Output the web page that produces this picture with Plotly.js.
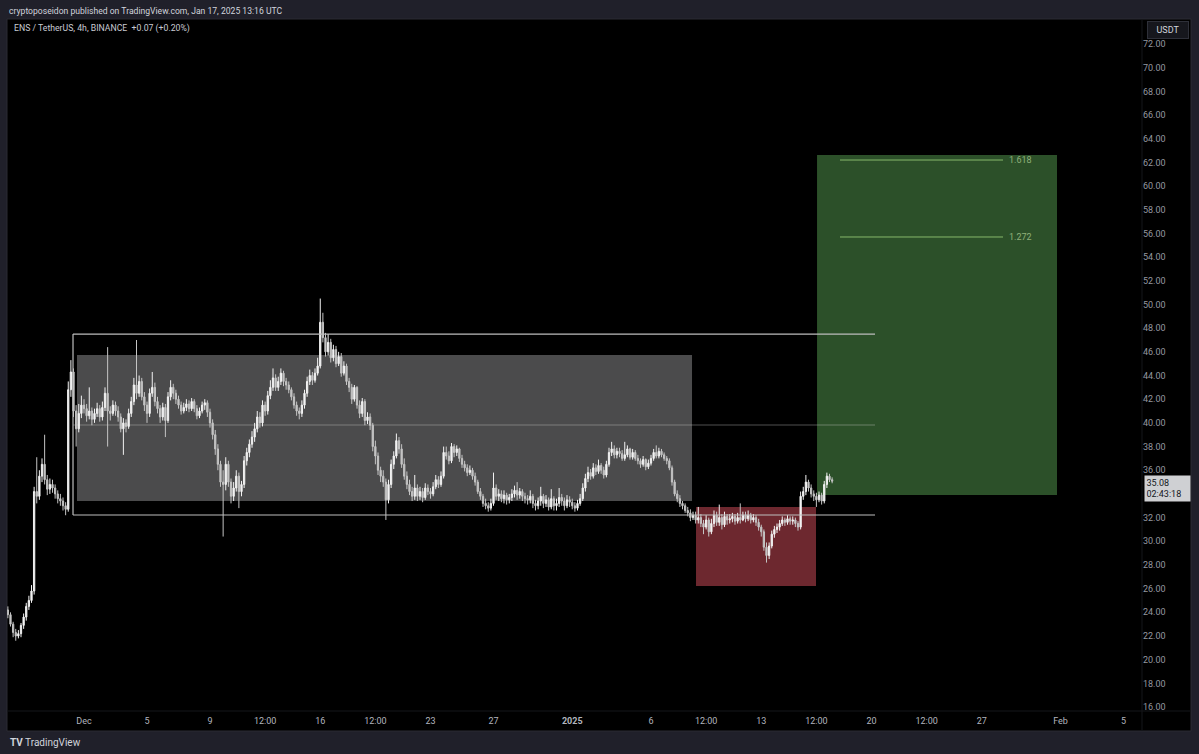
<!DOCTYPE html>
<html><head><meta charset="utf-8">
<script src="https://cdn.plot.ly/plotly-3.0.1.min.js"></script>
<style>html,body{margin:0;padding:0;background:#20202a;}#chart{width:1199px;height:754px;}</style>
</head><body><div id="chart"></div>
<script>
// ENS / TetherUS 4h candles, first candle 2024-11-26 04:00 UTC, one per 4 hours
const firstCandle = Date.UTC(2024, 10, 26, 4, 0);
const open = [
 24.2,23.8,23.0,22.3,22.0,
 22.2,22.9,23.6,24.5,25.0,25.8,
 34.2,33.8,35.5,36.5,35.2,34.4,
 34.8,34.5,34.0,33.6,33.4,33.0,
 32.7,42.8,44.3,41.0,39.5,40.8,
 41.5,41.2,40.6,41.0,40.3,40.8,
 41.2,40.5,41.3,42.5,41.0,40.8,
 41.5,41.0,40.5,39.5,40.0,39.7,
 40.8,41.8,43.2,42.5,43.5,42.2,
 41.5,40.8,42.5,43.0,41.8,41.2,
 40.5,41.3,40.2,42.2,43.0,42.5,
 42.0,41.5,41.0,41.3,41.6,41.2,
 41.8,41.2,40.6,41.0,41.5,41.7,
 40.9,40.0,39.0,37.8,36.5,35.0,
 34.8,36.5,35.0,33.8,34.5,35.5,
 34.2,34.8,36.8,37.5,38.2,38.8,
 39.5,40.5,40.0,41.5,41.0,42.3,
 43.0,43.8,43.0,43.5,44.2,43.5,
 43.2,42.8,42.2,41.5,41.0,40.8,
 41.5,42.5,43.5,44.0,43.6,44.2,
 44.8,48.5,47.2,46.0,46.8,45.5,
 46.2,45.0,45.6,44.2,44.8,43.5,
 43.0,42.0,43.0,41.5,40.8,41.8,
 40.2,40.5,39.8,38.0,37.2,36.0,
 35.5,35.0,33.5,34.8,36.5,37.2,
 38.5,37.8,36.5,35.5,34.8,34.2,
 33.8,34.5,33.8,34.2,33.7,34.5,
 34.2,34.0,34.6,35.2,34.8,35.5,
 37.5,37.2,36.8,38.0,37.5,37.8,
 37.0,36.5,36.2,35.8,36.0,35.5,
 35.0,34.2,33.8,33.2,33.0,32.8,
 33.2,34.5,33.8,34.0,33.6,33.9,
 33.5,33.7,34.0,34.3,33.9,34.2,
 33.8,33.6,33.5,33.8,33.2,33.0,
 33.4,33.8,33.2,33.5,32.9,33.6,
 33.0,33.2,33.7,33.4,33.0,33.5,
 33.3,33.0,32.8,33.2,33.6,34.5,
 35.3,35.8,35.5,36.2,35.9,36.4,
 36.0,35.6,36.5,37.5,37.8,37.3,
 37.6,37.4,37.0,37.3,37.8,37.1,
 37.5,37.0,36.8,36.5,36.9,36.3,
 36.6,37.0,37.5,37.2,37.6,37.3,
 37.0,36.8,36.2,35.0,34.0,33.6,
 33.2,33.0,32.6,32.4,32.0,32.2,
 31.8,32.0,31.5,31.2,31.8,30.8,
 31.5,32.2,31.6,32.0,31.4,32.1,
 31.8,31.9,32.1,31.7,32.0,31.8,
 32.2,31.9,32.2,31.8,32.0,31.6,
 31.2,30.8,29.5,28.8,29.6,30.6,
 31.0,31.2,31.5,31.8,31.6,31.9,
 31.7,31.8,31.5,31.2,33.8,34.2,
 35.0,34.5,34.0,33.8,33.5,33.9,
 33.4,34.8,35.5,35.2
];
const high = [
 24.5,24.0,23.2,22.6,22.5,
 23.1,23.9,24.8,25.4,26.3,34.6,
 37.1,36.0,37.0,39.0,35.6,35.3,
 35.2,34.8,34.3,34.0,33.7,33.3,
 43.5,45.3,44.6,41.5,41.6,42.3,
 42.0,41.6,43.0,41.3,41.2,41.7,
 41.5,41.8,43.0,46.4,41.4,41.9,
 41.8,41.4,40.8,40.4,40.3,41.2,
 42.2,43.8,47.0,44.0,43.8,42.6,
 41.8,42.9,44.3,43.4,42.2,41.5,
 41.7,41.6,42.6,43.6,43.3,42.8,
 42.3,41.8,41.7,42.0,41.9,42.1,
 42.0,41.5,41.3,41.8,42.0,41.9,
 41.2,40.3,39.4,38.2,36.8,36.0,
 37.1,36.8,35.3,35.0,36.0,35.8,
 35.1,37.2,37.9,38.6,39.3,40.0,
 41.0,40.9,41.9,41.8,42.7,43.6,
 44.6,44.1,43.9,44.6,44.4,43.8,
 43.5,43.0,42.5,41.8,41.3,41.9,
 42.8,43.9,44.5,44.3,44.6,45.5,
 50.5,49.3,47.6,47.5,47.1,46.6,
 46.5,46.0,45.9,45.2,45.0,43.8,
 43.3,43.2,43.1,41.9,42.1,42.0,
 40.9,40.8,40.0,38.5,37.5,36.3,
 36.0,35.3,35.2,36.9,37.6,39.1,
 38.8,38.2,37.0,35.9,35.2,34.6,
 35.6,34.8,34.6,34.5,34.9,34.8,
 34.5,35.0,35.6,35.5,35.9,38.0,
 38.0,37.6,38.3,38.2,38.1,37.9,
 37.3,36.8,36.5,36.4,36.2,35.8,
 35.2,34.5,34.0,33.6,33.3,33.6,
 35.8,34.8,34.4,34.3,34.3,34.1,
 34.0,34.4,34.7,35.0,34.5,34.4,
 34.1,33.9,34.3,34.0,33.5,33.7,
 34.6,34.0,33.9,33.7,34.4,33.8,
 33.6,34.5,34.0,33.7,33.9,33.8,
 33.6,33.3,33.5,34.0,34.9,35.7,
 36.3,36.1,36.6,36.5,36.9,36.6,
 36.3,36.8,37.9,38.4,38.1,37.9,
 37.9,37.7,38.4,38.1,37.9,37.8,
 37.7,37.3,37.0,37.2,37.0,36.9,
 37.3,37.8,38.1,37.9,37.8,37.5,
 37.2,37.0,36.4,35.2,34.3,33.9,
 33.4,33.2,32.9,32.7,32.5,32.5,
 32.9,32.3,31.8,32.2,32.0,31.9,
 32.6,32.5,33.1,32.3,32.5,32.3,
 32.3,32.4,32.3,32.4,33.2,32.5,
 32.5,32.6,32.4,32.3,32.2,31.9,
 31.4,31.0,29.9,29.9,30.9,31.3,
 31.5,31.8,32.1,32.0,32.2,32.1,
 32.1,32.0,31.7,34.2,34.6,35.6,
 35.2,34.8,34.3,34.1,34.2,34.1,
 35.1,35.8,35.7,35.4
];
const low = [
 23.5,22.8,21.9,21.6,21.8,
 21.9,22.6,23.3,24.2,24.8,25.5,
 33.2,33.5,35.0,34.8,33.9,34.0,
 34.1,33.6,33.2,33.0,32.6,32.2,
 32.5,42.2,40.5,38.0,39.2,40.4,
 40.8,40.1,40.3,39.8,40.0,40.5,
 40.1,40.2,41.0,38.0,40.2,40.6,
 40.6,40.1,39.2,37.3,39.2,39.5,
 40.5,41.5,42.0,42.2,41.9,41.0,
 40.0,40.5,42.2,41.4,40.8,40.0,
 40.2,38.8,40.0,41.9,42.0,41.6,
 41.2,40.7,40.8,41.0,40.9,41.0,
 40.9,40.3,40.4,40.8,41.1,40.5,
 39.6,38.6,37.3,36.0,34.6,30.4,
 34.3,34.6,33.2,33.4,34.2,32.8,
 33.8,34.5,36.4,37.1,37.9,38.4,
 39.2,39.6,39.7,40.6,40.7,42.0,
 42.7,42.7,42.7,43.2,43.1,42.8,
 42.5,41.9,41.2,40.6,40.3,40.5,
 41.2,42.2,43.2,43.2,43.4,44.0,
 44.6,46.8,45.6,45.7,45.1,45.2,
 44.7,44.8,43.9,44.0,43.2,42.6,
 41.6,41.8,41.2,40.4,40.5,39.8,
 39.9,39.4,37.6,36.5,35.6,35.0,
 34.6,31.8,33.2,34.5,36.1,37.0,
 37.4,36.2,35.2,34.4,33.9,33.4,
 33.5,33.4,33.5,33.3,33.5,33.9,
 33.6,33.8,34.4,34.5,34.6,35.3,
 36.9,36.5,36.6,37.1,37.2,36.7,
 36.2,35.9,35.5,35.6,35.2,34.7,
 34.0,33.5,32.9,32.7,32.5,32.6,
 33.0,33.5,33.4,33.3,33.2,33.1,
 33.2,33.4,33.7,33.5,33.6,33.4,
 33.2,33.1,33.2,32.8,32.6,32.7,
 33.0,32.8,32.9,32.6,32.7,32.6,
 32.6,32.9,33.0,32.6,32.8,32.9,
 32.7,32.5,32.6,33.0,33.4,34.2,
 35.0,35.2,35.3,35.6,35.7,35.7,
 35.3,35.4,36.3,37.2,37.0,37.0,
 37.1,36.8,36.8,37.1,36.9,36.9,
 36.8,36.5,36.2,36.3,36.0,36.1,
 36.4,36.8,37.0,37.0,37.1,36.8,
 36.5,36.0,34.7,33.8,33.3,32.9,
 32.7,32.4,32.1,31.7,31.8,31.5,
 31.5,31.2,30.6,31.0,30.4,30.6,
 31.2,31.3,31.3,31.0,31.2,31.4,
 31.5,31.6,31.4,31.5,31.5,31.7,
 31.6,31.7,31.5,31.6,31.3,30.9,
 30.4,29.2,28.2,28.5,29.4,30.3,
 30.7,30.9,31.3,31.3,31.4,31.4,
 31.4,31.2,30.9,31.0,33.5,33.9,
 34.2,33.7,33.4,32.9,33.3,33.1,
 33.2,34.5,35.0,34.9
];
const close = [
 23.8,23.0,22.3,22.0,22.2,
 22.9,23.6,24.5,25.0,25.8,34.2,
 33.8,35.5,36.5,35.2,34.4,34.8,
 34.5,34.0,33.6,33.4,33.0,32.7,
 42.8,44.3,41.0,39.5,40.8,41.5,
 41.2,40.6,41.0,40.3,40.8,41.2,
 40.5,41.3,42.5,41.0,40.8,41.5,
 41.0,40.5,39.5,40.0,39.7,40.8,
 41.8,43.2,42.5,43.5,42.2,41.5,
 40.8,42.5,43.0,41.8,41.2,40.5,
 41.3,40.2,42.2,43.0,42.5,42.0,
 41.5,41.0,41.3,41.6,41.2,41.8,
 41.2,40.6,41.0,41.5,41.7,40.9,
 40.0,39.0,37.8,36.5,35.0,34.8,
 36.5,35.0,33.8,34.5,35.5,34.2,
 34.8,36.8,37.5,38.2,38.8,39.5,
 40.5,40.0,41.5,41.0,42.3,43.0,
 43.8,43.0,43.5,44.2,43.5,43.2,
 42.8,42.2,41.5,41.0,40.8,41.5,
 42.5,43.5,44.0,43.6,44.2,44.8,
 48.5,47.2,46.0,46.8,45.5,46.2,
 45.0,45.6,44.2,44.8,43.5,43.0,
 42.0,43.0,41.5,40.8,41.8,40.2,
 40.5,39.8,38.0,37.2,36.0,35.5,
 35.0,33.5,34.8,36.5,37.2,38.5,
 37.8,36.5,35.5,34.8,34.2,33.8,
 34.5,33.8,34.2,33.7,34.5,34.2,
 34.0,34.6,35.2,34.8,35.5,37.5,
 37.2,36.8,38.0,37.5,37.8,37.0,
 36.5,36.2,35.8,36.0,35.5,35.0,
 34.2,33.8,33.2,33.0,32.8,33.2,
 34.5,33.8,34.0,33.6,33.9,33.5,
 33.7,34.0,34.3,33.9,34.2,33.8,
 33.6,33.5,33.8,33.2,33.0,33.4,
 33.8,33.2,33.5,32.9,33.6,33.0,
 33.2,33.7,33.4,33.0,33.5,33.3,
 33.0,32.8,33.2,33.6,34.5,35.3,
 35.8,35.5,36.2,35.9,36.4,36.0,
 35.6,36.5,37.5,37.8,37.3,37.6,
 37.4,37.0,37.3,37.8,37.1,37.5,
 37.0,36.8,36.5,36.9,36.3,36.6,
 37.0,37.5,37.2,37.6,37.3,37.0,
 36.8,36.2,35.0,34.0,33.6,33.2,
 33.0,32.6,32.4,32.0,32.2,31.8,
 32.0,31.5,31.2,31.8,30.8,31.5,
 32.2,31.6,32.0,31.4,32.1,31.8,
 31.9,32.1,31.7,32.0,31.8,32.2,
 31.9,32.2,31.8,32.0,31.6,31.2,
 30.8,29.5,28.8,29.6,30.6,31.0,
 31.2,31.5,31.8,31.6,31.9,31.7,
 31.8,31.5,31.2,33.8,34.2,35.0,
 34.5,34.0,33.8,33.5,33.9,33.4,
 34.8,35.5,35.2,35.08
];

// Axis ticks (34.00 is hidden behind the live price label in the reference)
const yTicks = [16,18,20,22,24,26,28,30,32,36,38,40,42,44,46,48,50,52,54,56,58,60,62,64,66,68,70,72];
const xTickVals = ['2024-12-01','2024-12-05','2024-12-09','2024-12-12 12:00','2024-12-16','2024-12-19 12:00','2024-12-23','2024-12-27','2025-01-01','2025-01-06','2025-01-09 12:00','2025-01-13','2025-01-16 12:00','2025-01-20','2025-01-23 12:00','2025-01-27','2025-02-01','2025-02-05'];
const xTickText = ['Dec','5','9','12:00','16','12:00','23','27','<b>2025</b>','6','12:00','13','12:00','20','12:00','27','Feb','5'];

// Drawings (range, zones, position tool)
const rangeTop = 47.5, rangeMid = 39.82, rangeBottom = 32.22;
const rangeStart = '2024-11-30 07:15', rangeEnd = '2025-01-20 05:20';
const grayZone = {x0:'2024-11-30 13:20', x1:'2025-01-08 14:30', y0:33.4, y1:45.73};
const redZone = {x0:'2025-01-08 20:35', x1:'2025-01-16 11:25', y0:26.22, y1:32.9};
const greenZone = {x0:'2025-01-16 13:00', x1:'2025-01-31 18:40', y0:33.91, y1:62.63};
const fibLevels = [1.618, 1.272];
const fibPrices = [62.2, 55.7];
const fibStart = '2025-01-18 00:00', fibEnd = '2025-01-28 08:25', fibLabelX = '2025-01-28 15:00';

const pad = n => String(n).padStart(2,'0');
const times = close.map((_, i) => {
  const d = new Date(firstCandle + i*4*3600*1000);
  return d.getUTCFullYear()+'-'+pad(d.getUTCMonth()+1)+'-'+pad(d.getUTCDate())+' '+pad(d.getUTCHours())+':00';
});

const W = 1199, H = 754;
const px = v => v / W, py = v => 1 - v / H;
const FONT = 'Roboto, Inter, "Noto Sans", sans-serif';

const trace = {
  type:'candlestick', x: times, open, high, low, close,
  increasing:{line:{color:'#f2f2f2', width:1}, fillcolor:'#f2f2f2'},
  decreasing:{line:{color:'#c4c4c4', width:1}, fillcolor:'#c4c4c4'},
  whiskerwidth:0, hoverinfo:'skip', showlegend:false
};

const shapes = [
  // panel
  {type:'rect', xref:'paper', yref:'paper', x0:px(7), x1:px(1191), y0:py(731), y1:py(19), fillcolor:'#000000', line:{color:'#2a2b33', width:1}, layer:'below'},
  {type:'line', xref:'paper', yref:'paper', x0:px(7), x1:px(1191), y0:py(711), y1:py(711), line:{color:'#15161b', width:1}, layer:'below'},
  {type:'line', xref:'paper', yref:'paper', x0:px(1142), x1:px(1142), y0:py(731), y1:py(19), line:{color:'#15161b', width:1}, layer:'below'},
  // zones
  {type:'rect', xref:'x', yref:'y', x0:grayZone.x0, x1:grayZone.x1, y0:grayZone.y0, y1:grayZone.y1, fillcolor:'#4b4b4c', line:{width:0}, layer:'below'},
  {type:'rect', xref:'x', yref:'y', x0:redZone.x0, x1:redZone.x1, y0:redZone.y0, y1:redZone.y1, fillcolor:'#6d282f', line:{width:0}, layer:'below'},
  {type:'rect', xref:'x', yref:'y', x0:greenZone.x0, x1:greenZone.x1, y0:greenZone.y0, y1:greenZone.y1, fillcolor:'#2c5029', line:{width:0}, layer:'below'},
  // range lines
  {type:'line', xref:'x', yref:'y', x0:rangeStart, x1:rangeEnd, y0:rangeTop, y1:rangeTop, line:{color:'#bdbdbd', width:1.2}, layer:'above'},
  {type:'line', xref:'x', yref:'y', x0:rangeStart, x1:rangeEnd, y0:rangeMid, y1:rangeMid, line:{color:'rgba(200,200,200,0.4)', width:1}, layer:'below'},
  {type:'line', xref:'x', yref:'y', x0:rangeStart, x1:rangeEnd, y0:rangeBottom, y1:rangeBottom, line:{color:'#bdbdbd', width:1.2}, layer:'above'},
  {type:'line', xref:'x', yref:'y', x0:rangeStart, x1:rangeStart, y0:rangeBottom, y1:rangeTop, line:{color:'#bdbdbd', width:1.2}, layer:'above'}
];
fibPrices.forEach(p => shapes.push({type:'line', xref:'x', yref:'y', x0:fibStart, x1:fibEnd, y0:p, y1:p, line:{color:'#86b86a', width:1}, layer:'above'}));

const annotations = [
  {xref:'paper', yref:'paper', x:px(7), y:py(11), xanchor:'left', yanchor:'middle', showarrow:false,
   text:'cryptoposeidon published on TradingView.com, Jan 17, 2025 13:16 UTC', font:{family:FONT, size:8.6, color:'#d1d4dc'}},
  {xref:'paper', yref:'paper', x:px(12), y:py(29), xanchor:'left', yanchor:'middle', showarrow:false,
   text:'ENS / TetherUS, 4h, BINANCE&nbsp;&nbsp;+0.07 (+0.20%)', font:{family:FONT, size:8.7, color:'#c8cad2'}},
  {xref:'paper', yref:'paper', x:px(1168), y:py(29.5), xanchor:'center', yanchor:'middle', showarrow:false,
   text:'USDT', font:{family:FONT, size:9, color:'#d1d4dc'}, bgcolor:'#16171d', bordercolor:'#2e3039', borderwidth:1, borderpad:3, width:34},
  {xref:'paper', yref:'paper', x:px(8), y:py(742), xanchor:'left', yanchor:'middle', showarrow:false,
   text:'<b>TV</b> TradingView', font:{family:FONT, size:10, color:'#d1d4dc'}},
  {xref:'paper', yref:'y', x:px(1144), y:close[close.length-1], xanchor:'left', yanchor:'top', yshift:6, showarrow:false, align:'left',
   text:'35.08<br>02:43:18', font:{family:FONT, size:9, color:'#131722'}, bgcolor:'#cfd0d3', borderpad:1.5, width:42}
];
fibLevels.forEach((f, i) => annotations.push({xref:'x', yref:'y', x:fibLabelX, y:fibPrices[i], xanchor:'left', yanchor:'middle', showarrow:false,
  text:String(f), font:{family:FONT, size:9, color:'#8fb07a'}}));

const layout = {
  width:W, height:H, margin:{l:0, r:0, t:0, b:0},
  paper_bgcolor:'#20202a', plot_bgcolor:'#000000',
  font:{family:FONT, color:'#9598a1'},
  showlegend:false,
  xaxis:{type:'date', domain:[px(7), px(1142)], range:['2024-11-26 02:40','2025-02-06 04:11'],
    tickmode:'array', tickvals:xTickVals, ticktext:xTickText, ticks:'', showgrid:false, zeroline:false,
    showline:false, rangeslider:{visible:false}, tickfont:{family:FONT, size:9, color:'#b2b5be'}, ticklabelstandoff:3, fixedrange:true},
  yaxis:{domain:[py(711), py(19)], range:[15.666, 74.111], side:'right', tickmode:'array', tickvals:yTicks,
    tickformat:'.2f', ticks:'', showgrid:false, zeroline:false, showline:false,
    tickfont:{family:FONT, size:9, color:'#9598a1'}, fixedrange:true},
  shapes, annotations
};

Plotly.newPlot('chart', [trace], layout, {displayModeBar:false, staticPlot:true});
</script>
</body></html>
